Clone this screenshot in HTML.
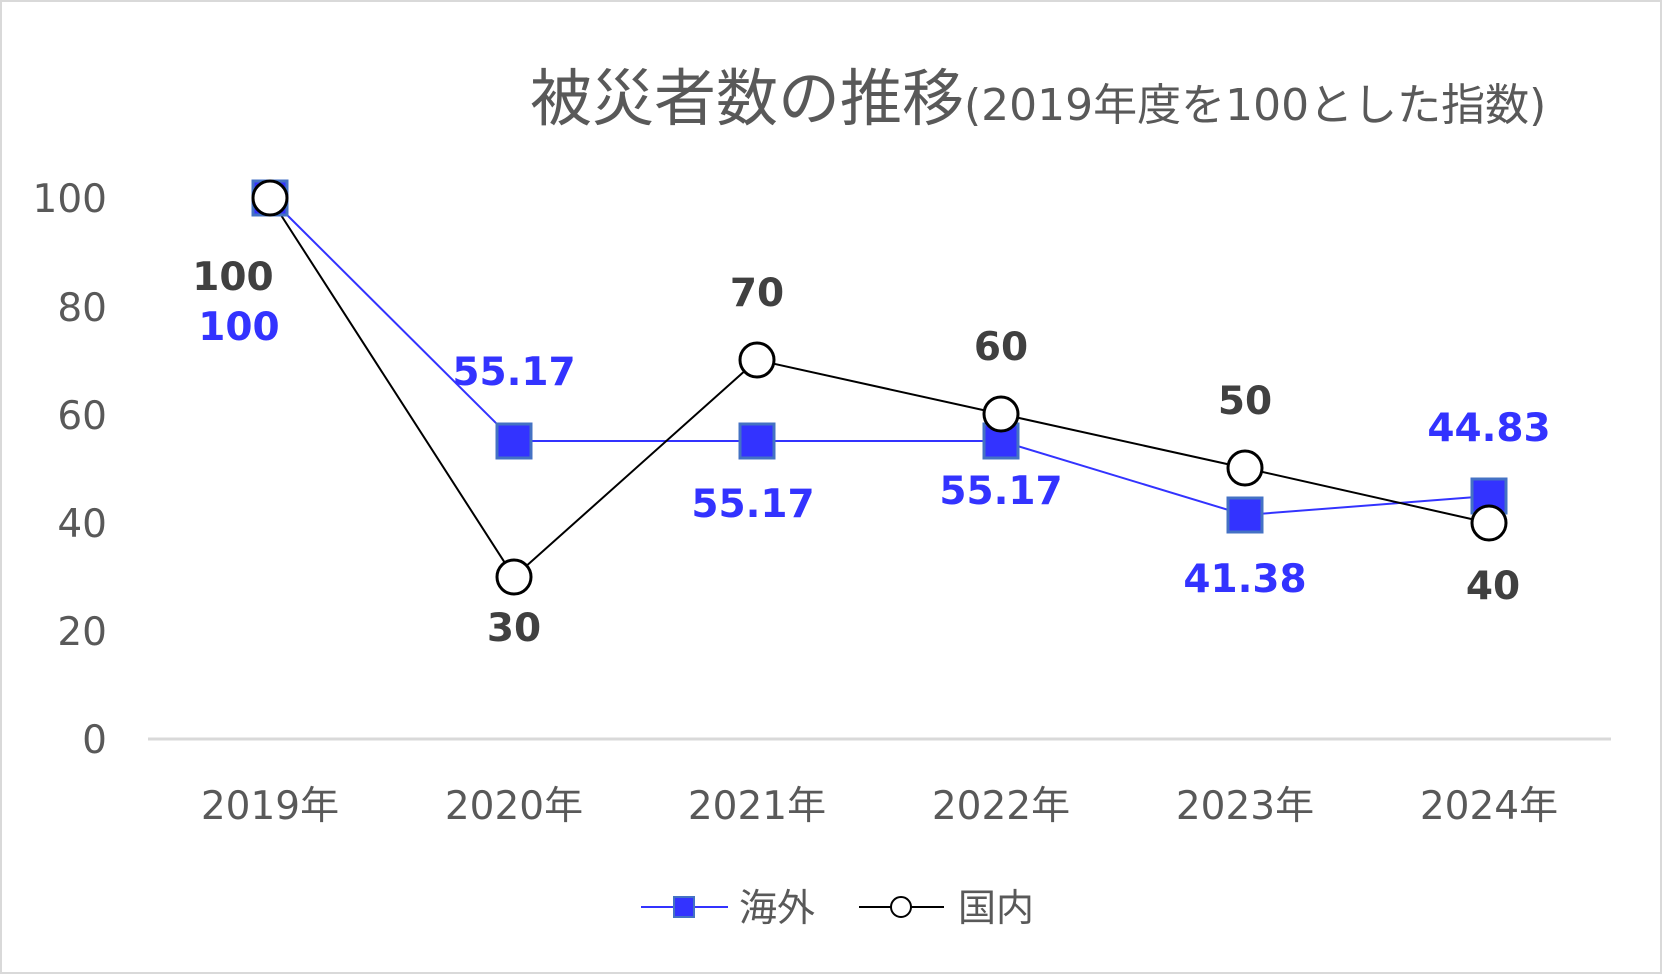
<!DOCTYPE html>
<html><head><meta charset="utf-8"><style>
html,body{margin:0;padding:0;background:#fff}
svg{display:block}
text{font-family:"DejaVu Sans","Liberation Sans","Noto Sans CJK JP",sans-serif}
</style></head><body>
<svg width="1663" height="975" viewBox="0 0 1663 975" xmlns="http://www.w3.org/2000/svg">
<rect x="1" y="1" width="1660" height="972" fill="#fff" stroke="#d9d9d9" stroke-width="2"/>
<text x="530" y="120" fill="#595959" font-size="62" font-family="'Noto Sans CJK JP',sans-serif">被災者数の推移<tspan font-size="44">(2019年度を100とした指数)</tspan></text>
<g fill="#595959" font-size="39" text-anchor="end">
<text x="107" y="212">100</text><text x="107" y="321">80</text><text x="107" y="429">60</text>
<text x="107" y="537">40</text><text x="107" y="645">20</text><text x="107" y="753">0</text>
</g>
<line x1="148" y1="739" x2="1611" y2="739" stroke="#d9d9d9" stroke-width="3"/>
<g fill="#595959" font-size="39" text-anchor="middle">
<text x="270" y="819">2019年</text><text x="514" y="819">2020年</text><text x="757" y="819">2021年</text>
<text x="1001" y="819">2022年</text><text x="1245" y="819">2023年</text><text x="1489" y="819">2024年</text>
</g>
<polyline points="270,198 514,441 757,441 1001,441 1245,515 1489,496" fill="none" stroke="#3333ff" stroke-width="2"/>
<polyline points="270,198 514,577 757,360 1001,414 1245,468 1489,523" fill="none" stroke="#000" stroke-width="2"/>
<g fill="#3333ff" stroke="#4472c4" stroke-width="3">
<rect x="253" y="181" width="34" height="34"/><rect x="497" y="424" width="34" height="34"/>
<rect x="740" y="424" width="34" height="34"/><rect x="984" y="424" width="34" height="34"/>
<rect x="1228" y="498" width="34" height="34"/><rect x="1472" y="479" width="34" height="34"/>
</g>
<g fill="#fff" stroke="#000" stroke-width="3">
<circle cx="270" cy="198" r="17"/><circle cx="514" cy="577" r="17"/><circle cx="757" cy="360" r="17"/>
<circle cx="1001" cy="414" r="17"/><circle cx="1245" cy="468" r="17"/><circle cx="1489" cy="523" r="17"/>
</g>
<g font-size="39" font-weight="bold" text-anchor="middle">
<g fill="#404040">
<text x="233" y="290">100</text><text x="514" y="641">30</text><text x="757" y="306">70</text>
<text x="1001" y="360">60</text><text x="1245" y="414">50</text><text x="1493" y="599">40</text>
</g>
<g fill="#3333ff">
<text x="239" y="340">100</text><text x="514" y="385">55.17</text><text x="753" y="517">55.17</text>
<text x="1001" y="504">55.17</text><text x="1245" y="592">41.38</text><text x="1489" y="441">44.83</text>
</g>
</g>
<line x1="641" y1="907" x2="728" y2="907" stroke="#3333ff" stroke-width="2"/>
<rect x="674" y="897" width="20" height="20" fill="#3333ff" stroke="#4472c4" stroke-width="2"/>
<text x="739" y="921" fill="#595959" font-size="38" font-family="'Noto Sans CJK JP',sans-serif">海外</text>
<line x1="859" y1="907" x2="944" y2="907" stroke="#000" stroke-width="2"/>
<circle cx="901" cy="907" r="10" fill="#fff" stroke="#000" stroke-width="2"/>
<text x="958" y="921" fill="#595959" font-size="38" font-family="'Noto Sans CJK JP',sans-serif">国内</text>
</svg>
</body></html>
